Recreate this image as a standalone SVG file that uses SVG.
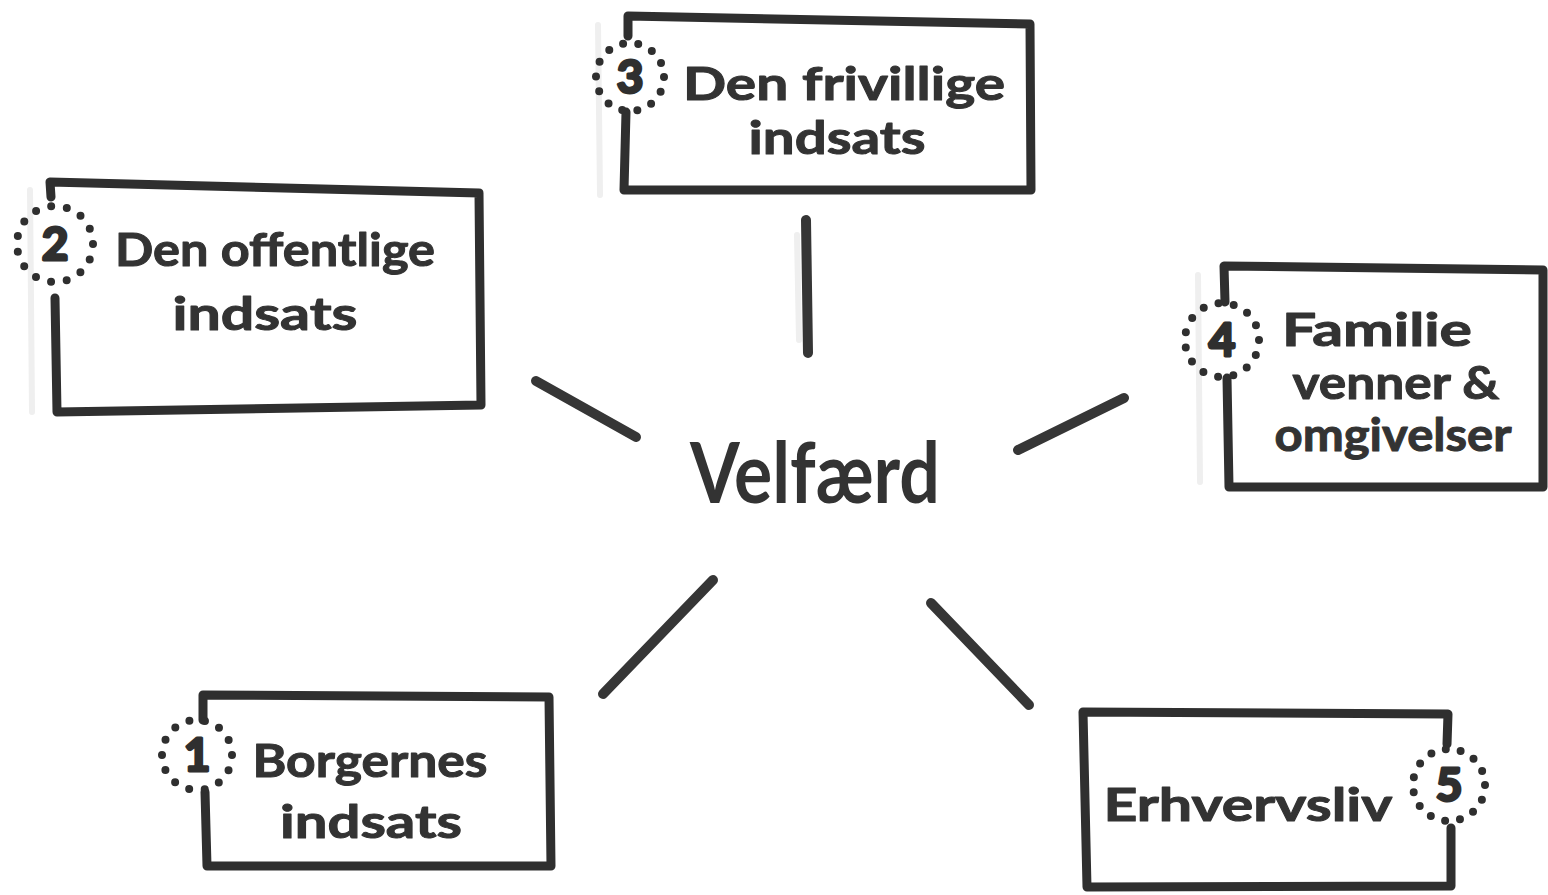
<svg xmlns="http://www.w3.org/2000/svg" width="1548" height="895" viewBox="0 0 1548 895">
  <style>
    .box { fill: none; stroke: #2f2f2f; stroke-width: 9; stroke-linejoin: round; stroke-linecap: round; }
    .shade { fill: none; stroke: #efefef; stroke-width: 6; stroke-linecap: round; }
    .dots { fill: none; stroke: #2f2f2f; stroke-width: 8; stroke-linecap: round; }
    .num { font-family: "Lato", "Liberation Sans", sans-serif; font-weight: 700; font-size: 46px; fill: #2f2f2f; stroke: #2f2f2f; stroke-width: 3; stroke-linejoin: round; text-anchor: middle; }
    .lbl { font-family: "Lato", "Liberation Sans", sans-serif; font-weight: 700; font-size: 46px; fill: #333333; stroke: #333333; stroke-width: 1; stroke-linejoin: round; text-anchor: middle; }
    .hub { font-family: "Lato", "Liberation Sans", sans-serif; font-weight: 700; font-size: 84px; fill: #333333; text-anchor: middle; }
    .link { stroke: #363636; stroke-width: 10; stroke-linecap: round; }
  </style>

  <rect width="1548" height="895" fill="#ffffff"/>

  <!-- faint paper shading along left edges -->
  <g id="shading">
    <path class="shade" d="M30,190 L32,412"/>
    <path class="shade" d="M598,25 L600,195"/>
    <path class="shade" d="M1198,275 L1200,482"/>
    <path class="shade" d="M797,235 L799,340"/>
  </g>

  <!-- connectors radiating from the hub -->
  <g id="connectors">
    <line class="link" x1="806" y1="220" x2="808" y2="353"/>
    <line class="link" x1="536" y1="381" x2="636" y2="437"/>
    <line class="link" x1="1018" y1="450" x2="1124" y2="398"/>
    <line class="link" x1="603" y1="694" x2="713" y2="580"/>
    <line class="link" x1="931" y1="603" x2="1029" y2="705"/>
  </g>

  <g id="hub">
    <text class="hub" x="815" y="503" textLength="250" lengthAdjust="spacingAndGlyphs">Velfærd</text>
  </g>

  <g id="node-2">
    <path class="box" d="M51,197 L50,182 L479,193 L481,405 L57,412 L55,298"/>
    <circle class="dots" cx="55" cy="244" r="38" stroke-dasharray="0 15.9"/>
    <text class="num" x="55" y="260">2</text>
    <text class="lbl" x="275" y="266" textLength="320" lengthAdjust="spacingAndGlyphs">Den offentlige</text>
    <text class="lbl" x="265" y="330" textLength="185" lengthAdjust="spacingAndGlyphs">indsats</text>
  </g>

  <g id="node-3">
    <path class="box" d="M628,36 L628,16 L1030,24 L1031,190 L624,190 L626,112"/>
    <circle class="dots" cx="630" cy="77" r="34" stroke-dasharray="0 15.3"/>
    <text class="num" x="630" y="93">3</text>
    <text class="lbl" x="844" y="100" textLength="322" lengthAdjust="spacingAndGlyphs">Den frivillige</text>
    <text class="lbl" x="837" y="154" textLength="177" lengthAdjust="spacingAndGlyphs">indsats</text>
  </g>

  <g id="node-4">
    <path class="box" d="M1225,302 L1224,266 L1543,270 L1543,487 L1229,487 L1227,378"/>
    <circle class="dots" cx="1222" cy="340" r="37" stroke-dasharray="0 15.5"/>
    <text class="num" x="1222" y="356">4</text>
    <text class="lbl" x="1377" y="346" textLength="190" lengthAdjust="spacingAndGlyphs">Familie</text>
    <text class="lbl" x="1396" y="399" textLength="207" lengthAdjust="spacingAndGlyphs">venner &amp;</text>
    <text class="lbl" x="1393" y="451" textLength="237" lengthAdjust="spacingAndGlyphs">omgivelser</text>
  </g>

  <g id="node-1">
    <path class="box" d="M203,720 L203,695 L549,697 L551,866 L207,866 L205,792"/>
    <circle class="dots" cx="197" cy="755" r="35" stroke-dasharray="0 15.7"/>
    <text class="num" x="197" y="771">1</text>
    <text class="lbl" x="370" y="777" textLength="235" lengthAdjust="spacingAndGlyphs">Borgernes</text>
    <text class="lbl" x="371" y="838" textLength="182" lengthAdjust="spacingAndGlyphs">indsats</text>
  </g>

  <g id="node-5">
    <path class="box" d="M1447,744 L1448,714 L1083,712 L1087,887 L1451,886 L1451,828"/>
    <circle class="dots" cx="1449" cy="785" r="36" stroke-dasharray="0 15.1"/>
    <text class="num" x="1449" y="801">5</text>
    <text class="lbl" x="1248" y="821" textLength="289" lengthAdjust="spacingAndGlyphs">Erhvervsliv</text>
  </g>
</svg>
